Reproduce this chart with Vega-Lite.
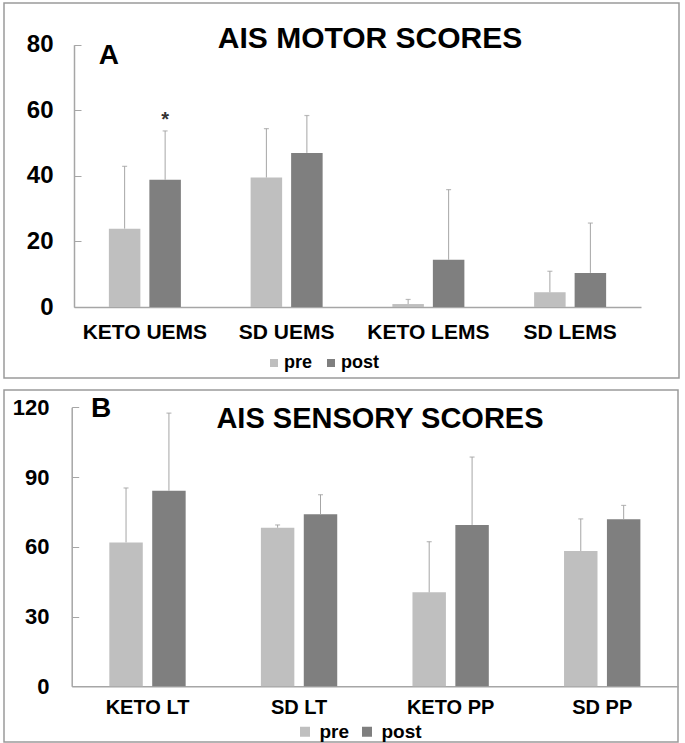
{
  "$schema": "https://vega.github.io/schema/vega-lite/v6.json",
  "padding": {"left": 3, "top": 2, "right": 0, "bottom": 0},
  "autosize": {"type": "pad"},
  "spacing": 10,
  "config": {
    "view": {"stroke": "#9a9a9a", "strokeWidth": 1.5},
    "font": "Liberation Sans",
    "axis": {"labelColor": "#000000", "domainColor": "#a6a6a6", "tickColor": "#a6a6a6", "domainWidth": 1.5, "labelFont": "Liberation Sans", "labelFontWeight": "bold", "title": null, "grid": false},
    "legend": {"labelColor": "#000000", "labelFont": "Liberation Sans", "labelFontWeight": "bold"}
  },
  "datasets": {
    "motor": [
      {"cat": "KETO UEMS", "grp": "pre", "val": 23.9, "err": 42.9, "sig": ""},
      {"cat": "KETO UEMS", "grp": "post", "val": 38.8, "err": 53.7, "sig": "*"},
      {"cat": "SD UEMS", "grp": "pre", "val": 39.5, "err": 54.4, "sig": ""},
      {"cat": "SD UEMS", "grp": "post", "val": 47.0, "err": 58.4, "sig": ""},
      {"cat": "KETO LEMS", "grp": "pre", "val": 0.9, "err": 2.3, "sig": ""},
      {"cat": "KETO LEMS", "grp": "post", "val": 14.4, "err": 35.8, "sig": ""},
      {"cat": "SD LEMS", "grp": "pre", "val": 4.5, "err": 10.9, "sig": ""},
      {"cat": "SD LEMS", "grp": "post", "val": 10.4, "err": 25.6, "sig": ""}
    ],
    "sensory": [
      {"cat": "KETO LT", "grp": "pre", "val": 61.9, "err": 85.3},
      {"cat": "KETO LT", "grp": "post", "val": 84.1, "err": 117.5},
      {"cat": "SD LT", "grp": "pre", "val": 68.2, "err": 69.4},
      {"cat": "SD LT", "grp": "post", "val": 74.0, "err": 82.4},
      {"cat": "KETO PP", "grp": "pre", "val": 40.4, "err": 62.2},
      {"cat": "KETO PP", "grp": "post", "val": 69.4, "err": 98.6},
      {"cat": "SD PP", "grp": "pre", "val": 58.2, "err": 72.0},
      {"cat": "SD PP", "grp": "post", "val": 71.8, "err": 77.8}
    ]
  },
  "resolve": {
    "scale": {"x": "independent", "y": "independent", "xOffset": "independent", "color": "independent"},
    "legend": {"color": "independent"}
  },
  "vconcat": [
    {
      "width": 675,
      "height": 375,
      "data": {"name": "motor"},
      "encoding": {
        "x": {"field": "cat", "type": "nominal", "sort": null,
          "scale": {"domain": ["KETO UEMS", "SD UEMS", "KETO LEMS", "SD LEMS"], "range": [70, 637], "paddingInner": 0, "paddingOuter": 0},
          "axis": {"labelAngle": 0, "labelFontSize": 21, "ticks": false, "labelPadding": 14, "offset": -71}},
        "xOffset": {"field": "grp", "type": "nominal", "scale": {"domain": ["pre", "post"], "paddingInner": 0.222, "paddingOuter": 0.861}}
      },
      "layer": [
        {
          "mark": {"type": "bar"},
          "encoding": {
            "y": {"field": "val", "type": "quantitative",
              "scale": {"domain": [0, 80], "range": [304, 41.7], "nice": false, "zero": true},
              "axis": {"values": [0, 20, 40, 60, 80], "labelFontSize": 24, "tickSize": -7, "labelPadding": 28, "offset": -70}},
            "color": {"field": "grp", "type": "nominal",
              "scale": {"domain": ["pre", "post"], "range": ["#bfbfbf", "#7f7f7f"]},
              "legend": {"orient": "none", "legendX": 261, "legendY": 351, "direction": "horizontal", "title": null, "symbolType": "square", "symbolSize": 64, "symbolStrokeWidth": 0, "symbolOpacity": 1, "labelFontSize": 18, "labelOffset": 1, "columnPadding": 9, "padding": 0}}
          }
        },
        {
          "mark": {"type": "rule", "color": "#a6a6a6", "strokeWidth": 1},
          "encoding": {"y": {"field": "val", "type": "quantitative"}, "y2": {"field": "err"}}
        },
        {
          "mark": {"type": "tick", "color": "#a0a0a0", "thickness": 1.2, "size": 5},
          "encoding": {"y": {"field": "err", "type": "quantitative"}}
        },
        {
          "transform": [{"filter": "datum.sig != ''"}],
          "mark": {"type": "text", "fontSize": 20, "fontWeight": "bold", "color": "#333333", "baseline": "alphabetic", "align": "center", "dy": -5.2},
          "encoding": {"y": {"field": "err", "type": "quantitative"}, "text": {"field": "sig"}}
        },
        {
          "data": {"values": [{"panel": "A"}]},
          "mark": {"type": "text", "fontSize": 28, "fontWeight": "bold", "color": "#000000", "baseline": "alphabetic", "align": "center", "dx": -35.9},
          "encoding": {"x": {"datum": "KETO UEMS"}, "xOffset": null, "y": {"datum": 74}, "text": {"field": "panel"}}
        },
        {
          "data": {"values": [{"title": "AIS MOTOR SCORES"}]},
          "mark": {"type": "text", "fontSize": 30, "fontWeight": "bold", "color": "#000000", "baseline": "alphabetic", "align": "center", "dx": 83.4},
          "encoding": {"x": {"datum": "SD UEMS"}, "xOffset": null, "y": {"datum": 79.1}, "text": {"field": "title"}}
        }
      ]
    },
    {
      "width": 674,
      "height": 352,
      "data": {"name": "sensory"},
      "encoding": {
        "x": {"field": "cat", "type": "nominal", "sort": null,
          "scale": {"domain": ["KETO LT", "SD LT", "KETO PP", "SD PP"], "range": [67.7, 674], "paddingInner": 0, "paddingOuter": 0},
          "axis": {"labelAngle": 0, "labelFontSize": 20, "ticks": false, "labelPadding": 11, "offset": -55.7}},
        "xOffset": {"field": "grp", "type": "nominal", "scale": {"domain": ["pre", "post"], "paddingInner": 0.22, "paddingOuter": 0.877}}
      },
      "layer": [
        {
          "mark": {"type": "bar"},
          "encoding": {
            "y": {"field": "val", "type": "quantitative",
              "scale": {"domain": [0, 120], "range": [296.3, 17.3], "nice": false, "zero": true},
              "axis": {"values": [0, 30, 60, 90, 120], "labelFontSize": 22, "tickSize": -7, "labelPadding": 29.7, "offset": -67.7}},
            "color": {"field": "grp", "type": "nominal",
              "scale": {"domain": ["pre", "post"], "range": ["#bfbfbf", "#7f7f7f"]},
              "legend": {"orient": "none", "legendX": 291.5, "legendY": 332, "direction": "horizontal", "title": null, "symbolType": "square", "symbolSize": 100, "symbolStrokeWidth": 0, "symbolOpacity": 1, "labelFontSize": 19, "labelOffset": 5, "columnPadding": 8, "padding": 0}}
          }
        },
        {
          "mark": {"type": "rule", "color": "#a6a6a6", "strokeWidth": 1},
          "encoding": {"y": {"field": "val", "type": "quantitative"}, "y2": {"field": "err"}}
        },
        {
          "mark": {"type": "tick", "color": "#a0a0a0", "thickness": 1.2, "size": 5},
          "encoding": {"y": {"field": "err", "type": "quantitative"}}
        },
        {
          "data": {"values": [{"panel": "B"}]},
          "mark": {"type": "text", "fontSize": 28, "fontWeight": "bold", "color": "#000000", "baseline": "alphabetic", "align": "center", "dx": -46.5},
          "encoding": {"x": {"datum": "KETO LT"}, "xOffset": null, "y": {"datum": 116}, "text": {"field": "panel"}}
        },
        {
          "data": {"values": [{"title": "AIS SENSORY SCORES"}]},
          "mark": {"type": "text", "fontSize": 29, "fontWeight": "bold", "color": "#000000", "baseline": "alphabetic", "align": "center", "dx": 80.9},
          "encoding": {"x": {"datum": "SD LT"}, "xOffset": null, "y": {"datum": 111}, "text": {"field": "title"}}
        }
      ]
    }
  ]
}
